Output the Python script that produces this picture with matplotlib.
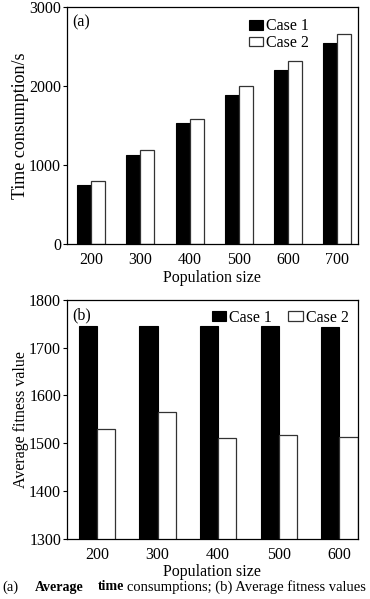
import matplotlib
matplotlib.use('Agg')
import matplotlib.pyplot as plt
import numpy as np

plt.rcParams['font.family'] = 'Liberation Serif'

# (a) temps moyen
pop_a = ['200', '300', '400', '500', '600', '700']
temps_case1 = [750, 1128, 1529, 1890, 2203, 2551]
temps_case2 = [800, 1191, 1580, 2005, 2317, 2661]

# (b) fitness moyenne
pop_b = ['200', '300', '400', '500', '600']
fit_case1 = [1745, 1746, 1745, 1745, 1744]
fit_case2 = [1530, 1565, 1511, 1518, 1513]

fig = plt.figure(figsize=(3.70, 5.99), dpi=100)
ax1 = fig.add_axes([0.180, 0.593, 0.788, 0.395])
ax2 = fig.add_axes([0.180, 0.101, 0.788, 0.398])

fs = 11.5

# --- panneau (a)
x = np.arange(len(pop_a))
w = 0.285
ax1.bar(x - w / 2, temps_case1, w, color='black', edgecolor='black', linewidth=0.8, label='Case 1')
ax1.bar(x + w / 2, temps_case2, w, color='white', edgecolor='#333333', linewidth=0.9, label='Case 2')
ax1.set_xlim(-0.5, 5.43)
ax1.set_ylim(0, 3000)
ax1.set_yticks([0, 1000, 2000, 3000])
ax1.set_xticks(x)
ax1.set_xticklabels(pop_a)
ax1.set_xlabel('Population size', fontsize=fs, labelpad=1)
ax1.set_ylabel('Time consumption/s', fontsize=13, labelpad=0)
ax1.text(0.02, 0.97, '(a)', transform=ax1.transAxes, fontsize=fs, va='top', ha='left')
ax1.legend(loc='upper right', bbox_to_anchor=(0.87, 1.0), frameon=False, fontsize=fs,
           handlelength=0.9, handleheight=0.55, handletextpad=0.2, labelspacing=0.05,
           borderaxespad=0.3)

# --- panneau (b)
x = np.arange(len(pop_b))
w = 0.30
ax2.bar(x - w / 2, fit_case1, w, color='black', edgecolor='black', linewidth=0.8, label='Case 1')
ax2.bar(x + w / 2, fit_case2, w, color='white', edgecolor='#333333', linewidth=0.9, label='Case 2')
ax2.set_xlim(-0.5, 4.31)
ax2.set_ylim(1300, 1800)
ax2.set_yticks([1300, 1400, 1500, 1600, 1700, 1800])
ax2.set_xticks(x)
ax2.set_xticklabels(pop_b)
ax2.set_xlabel('Population size', fontsize=fs, labelpad=1)
ax2.set_ylabel('Average fitness value', fontsize=fs, labelpad=0)
ax2.text(0.02, 0.97, '(b)', transform=ax2.transAxes, fontsize=fs, va='top', ha='left')
ax2.legend(loc='upper right', ncol=2, frameon=False, fontsize=fs,
           handlelength=0.9, handleheight=0.55, handletextpad=0.2, columnspacing=1.0,
           borderaxespad=0.2)

for ax in (ax1, ax2):
    ax.tick_params(axis='x', length=0, labelsize=fs, pad=6)
    ax.tick_params(axis='y', direction='out', length=3, width=0.8, labelsize=fs, pad=1)
    for s in ax.spines.values():
        s.set_linewidth(0.9)

# légende de la figure
cy = 1 - 587 / 599
fig.text(2 / 370, cy, '(a)', fontsize=10.5, ha='left', va='center')
fig.text(35 / 370, cy, 'Average', fontsize=10, fontweight='bold', ha='left', va='center')
fig.text(98 / 370, cy, 'time', fontsize=10, fontweight='bold', ha='left', va='center')
fig.text(127 / 370, cy, 'consumptions; (b) Average fitness values', fontsize=10.5,
         ha='left', va='center')

plt.savefig('out.png', dpi=100)
plt.close()
